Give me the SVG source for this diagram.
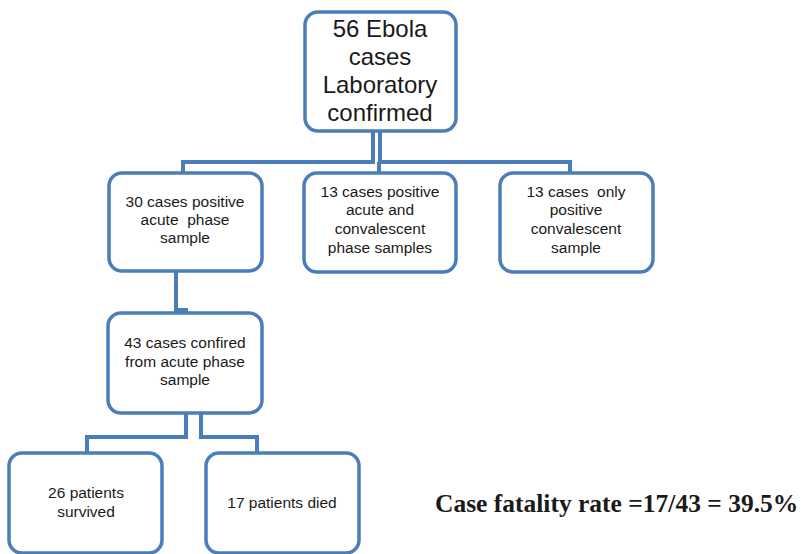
<svg xmlns="http://www.w3.org/2000/svg" width="805" height="554" viewBox="0 0 805 554" xml:space="preserve">
<style>
.box{fill:#fff;stroke:#4a7ebb;stroke-width:3.5}
.con{fill:none;stroke:#4a7ebb;stroke-width:4;stroke-linejoin:miter}
.t{font-family:"Liberation Sans",Arial,sans-serif;font-size:15.5px;fill:#1a1a1a;text-anchor:middle;white-space:pre}
.big{font-size:24px}
.cfr{font-family:"Liberation Serif","Times New Roman",serif;font-weight:bold;font-size:25.5px;fill:#1a1a1a}
</style>
<rect width="805" height="554" fill="#fff"/>
<g id="connectors">
<path class="con" d="M373,131 V162 H183 V173"/>
<path class="con" d="M380,131 V162 H570 V173"/>
<path class="con" d="M379,162 V173"/>
<path class="con" d="M176,270 V310 H186 V313"/>
<path class="con" d="M186,413 V437 H87 V453"/>
<path class="con" d="M201,413 V437 H257 V453"/>
</g>
<g id="n_top">
<rect class="box" x="305" y="12" width="151" height="119" rx="13"/>
<text class="t big" x="380" y="37">56 Ebola</text>
<text class="t big" x="380" y="65">cases</text>
<text class="t big" x="380" y="93">Laboratory</text>
<text class="t big" x="380" y="121">confirmed</text>
</g>
<g id="n_acute">
<rect class="box" x="109" y="173" width="153" height="98" rx="13"/>
<text class="t" x="185" y="207">30 cases positive</text>
<text class="t" x="185" y="225">acute  phase</text>
<text class="t" x="185" y="243">sample</text>
</g>
<g id="n_both">
<rect class="box" x="304" y="173" width="152" height="99" rx="13"/>
<text class="t" x="380" y="197">13 cases positive</text>
<text class="t" x="380" y="215">acute and</text>
<text class="t" x="380" y="234">convalescent</text>
<text class="t" x="380" y="253">phase samples</text>
</g>
<g id="n_conv">
<rect class="box" x="500" y="173" width="153" height="99" rx="13"/>
<text class="t" x="576" y="197">13 cases  only</text>
<text class="t" x="576" y="215">positive</text>
<text class="t" x="576" y="234">convalescent</text>
<text class="t" x="576" y="253">sample</text>
</g>
<g id="n_43">
<rect class="box" x="108" y="313" width="154" height="100" rx="13"/>
<text class="t" x="185" y="348">43 cases confired</text>
<text class="t" x="185" y="367">from acute phase</text>
<text class="t" x="185" y="385">sample</text>
</g>
<g id="n_survived">
<rect class="box" x="9" y="453" width="153" height="100" rx="13"/>
<text class="t" x="86" y="498">26 patients</text>
<text class="t" x="86" y="517">survived</text>
</g>
<g id="n_died">
<rect class="box" x="206" y="453" width="153" height="100" rx="13"/>
<text class="t" x="282" y="508">17 patients died</text>
</g>
<text class="cfr" x="435" y="512">Case fatality rate =17/43 = 39.5%</text>
</svg>
